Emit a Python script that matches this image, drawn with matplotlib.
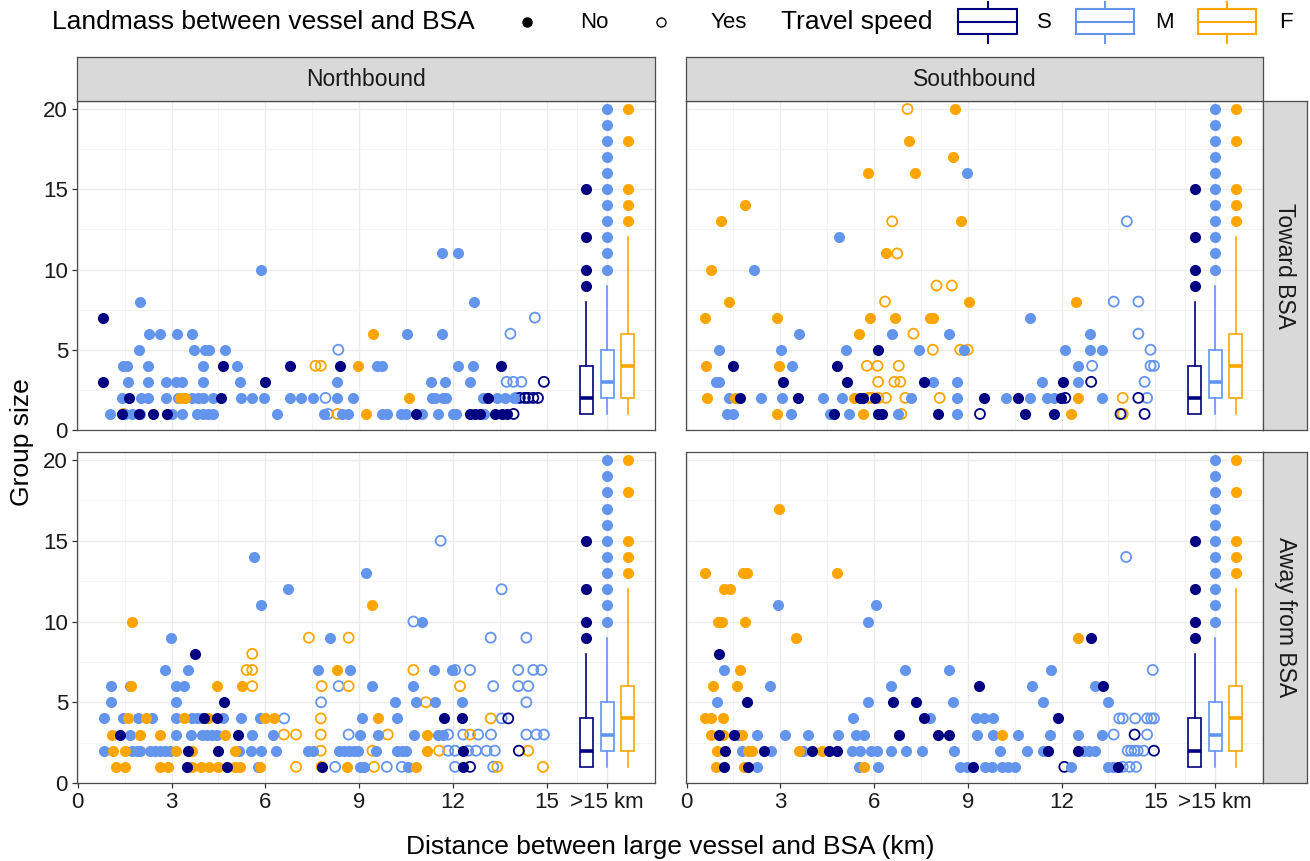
import matplotlib
matplotlib.use("Agg")
import matplotlib.pyplot as plt
from matplotlib.patches import Rectangle
from matplotlib.lines import Line2D
from matplotlib.ticker import FixedLocator

plt.rcParams['font.family'] = ['Liberation Sans', 'DejaVu Sans']

# ---------------------------------------------------------------- data
speeds = ['S', 'M', 'F']
speed_colors = {'S': '#000080', 'M': '#6495ED', 'F': '#FFA500'}
directions = ['Northbound', 'Southbound']
headings = ['Toward BSA', 'Away from BSA']

x_tick_values = [0, 3, 6, 9, 12, 15]
x_tick_labels = ['0', '3', '6', '9', '12', '15']
far_label = '>15 km'
y_tick_values = [0, 5, 10, 15, 20]

# boxplot summaries for groups beyond 15 km (same in every panel)
box_whislo = [1, 1, 1]
box_q1 = [1, 2, 2]
box_med = [2, 3, 4]
box_q3 = [4, 5, 6]
box_whishi = [8, 9, 12]
box_fliers_S = [9, 10, 12, 15]
box_fliers_M = [10, 11, 12, 13, 14, 15, 16, 17, 18, 19, 20]
box_fliers_F = [13, 14, 15, 18, 20]

# scatter data: {group size: [distances in km]}
# Northbound / Toward BSA
nt_S_no = {7: [0.8], 4: [4.66, 6.78, 8.37, 13.52], 3: [0.8, 5.99],
           2: [1.63, 4.58, 13.12],
           1: [1.41, 1.95, 2.42, 2.85, 10.81, 12.54, 12.7, 12.86, 13.33, 13.55, 13.71]}
nt_S_yes = {3: [14.9], 2: [14.13, 14.29, 14.4, 14.56, 14.71], 1: [13.93]}
nt_M_no = {11: [11.63, 12.14], 10: [5.86], 8: [2.0, 12.66],
           6: [2.29, 2.64, 3.17, 3.65, 10.54, 11.63],
           5: [1.95, 3.71, 4.08, 4.2, 4.71],
           4: [1.45, 1.57, 2.24, 4.01, 5.09, 9.56, 9.72, 12.16, 12.62],
           3: [1.6, 2.26, 2.82, 3.15, 3.33, 4.0, 5.2, 8.28, 11.28, 11.74, 12.54],
           2: [1.41, 2.02, 2.26, 2.82, 3.22, 3.65, 3.86, 4.02, 4.34, 5.21, 5.58, 5.97,
               6.78, 7.13, 7.51, 8.3, 8.81, 11.31, 11.42, 11.68, 11.77, 12.96, 13.07,
               13.4, 13.67, 13.93],
           1: [1.04, 1.52, 1.74, 2.0, 3.0, 3.33, 3.81, 4.02, 4.18, 4.34, 6.36, 7.88,
               8.44, 8.65, 9.72, 9.88, 10.33, 10.49, 11.0, 11.52, 11.99, 12.1, 12.97]}
nt_M_yes = {7: [14.61], 6: [13.83], 5: [8.33], 3: [13.71, 13.92, 14.18],
            2: [7.92, 14.0], 1: [8.0]}
nt_F_no = {6: [9.45], 4: [8.97], 2: [3.27, 3.43, 10.59], 1: [9.21]}
nt_F_yes = {4: [7.6, 7.77], 1: [1.47, 8.3]}

# Southbound / Toward BSA
st_S_no = {5: [6.12], 4: [1.5, 4.8], 3: [3.1, 5.13, 7.59, 12.04],
           2: [1.71, 3.58, 5.56, 5.66, 6.04, 9.51, 10.6, 11.99],
           1: [4.72, 6.14, 6.25, 8.04, 10.84, 11.75]}
st_S_yes = {3: [12.95], 2: [12.12, 14.46], 1: [9.39, 13.89, 14.66]}
st_M_no = {16: [8.97], 12: [4.87], 10: [2.16], 7: [10.99],
           6: [3.61, 6.57, 8.41, 12.9],
           5: [1.05, 3.01, 5.11, 7.43, 8.89, 12.1, 12.9, 13.3],
           4: [3.37, 12.52],
           3: [0.94, 1.04, 7.9, 8.65, 11.37, 12.52],
           2: [1.37, 2.37, 3.04, 4.36, 4.97, 7.18, 8.65, 10.22, 10.99, 11.54, 11.77, 13.3],
           1: [1.28, 1.47, 3.34, 4.59, 5.2, 6.78, 8.65]}
st_M_yes = {13: [14.09], 8: [13.67, 14.46], 6: [14.46], 5: [14.85],
            4: [12.98, 14.85, 14.96], 3: [14.66], 2: [14.74]}
st_F_no = {20: [8.59], 18: [7.12], 17: [8.53], 16: [5.82, 7.32], 14: [1.87],
           13: [1.1, 8.79], 11: [6.37], 10: [0.79], 8: [1.36, 9.03, 12.48],
           7: [0.58, 2.88, 5.88, 6.66, 7.8, 7.9], 6: [5.53], 4: [0.62, 2.97],
           2: [0.66, 1.55, 5.36, 12.52], 1: [2.88, 5.63, 12.29]}
st_F_yes = {20: [7.07], 13: [6.58], 11: [6.74], 9: [8.0, 8.49], 8: [6.35], 6: [7.26],
            5: [7.88, 8.76, 9.0], 4: [5.77, 6.11, 6.79], 3: [6.13, 6.65, 6.84],
            2: [5.82, 5.93, 6.14, 6.38, 7.0, 8.1, 13.96], 1: [6.87, 13.96]}

# Northbound / Away from BSA
na_S_no = {8: [3.75], 5: [4.68], 4: [4.05, 4.44, 11.72, 12.29], 3: [1.34, 5.14],
           2: [3.54, 4.48, 12.3], 1: [3.49, 4.76, 7.8, 12.3]}
na_S_yes = {4: [13.76], 2: [14.1], 1: [12.54]}
na_M_no = {14: [5.65], 13: [9.21], 12: [6.73], 11: [5.86], 10: [11.02],
           9: [2.98, 8.08], 7: [2.78, 3.54, 7.69, 8.71, 11.4, 11.95],
           6: [1.06, 1.68, 3.14, 3.41, 9.4, 10.73],
           5: [1.06, 3.15, 10.14, 10.8, 11.42, 12.29],
           4: [0.83, 1.45, 1.93, 2.39, 3.14, 3.65, 3.81, 3.97, 4.63, 5.21, 5.83, 9.1, 10.2],
           3: [1.68, 3.14, 3.63, 3.97, 4.13, 4.29, 4.44, 5.56, 6.23, 9.03, 9.61, 10.75,
               11.52, 11.68],
           2: [0.83, 1.73, 1.89, 2.0, 2.32, 2.48, 2.64, 2.8, 2.96, 5.16, 5.54, 5.86, 6.33,
               7.37, 7.53, 8.34, 8.5, 8.66, 8.82, 8.97, 9.53, 10.21, 10.37, 10.5],
           1: [5.77, 9.03, 9.14, 10.57]}
na_M_yes = {15: [11.6], 12: [13.55], 10: [10.73], 9: [13.2, 14.34],
            7: [12.06, 12.54, 14.08, 14.56, 14.82], 6: [8.34, 13.28, 14.08, 14.4],
            5: [7.78, 14.34], 4: [6.6, 13.55],
            3: [8.66, 11.84, 12.32, 12.8, 13.21, 14.34, 14.66, 14.9],
            2: [11.84, 12.06, 12.48, 12.73, 13.07, 13.33],
            1: [8.23, 9.88, 10.36, 12.06, 13.28]}
na_F_no = {11: [9.4], 10: [1.73], 7: [8.28], 6: [1.7, 4.44, 5.26],
           4: [1.61, 2.19, 3.41, 4.18, 5.99, 6.28, 9.61],
           3: [1.1, 1.98, 2.64, 4.71, 11.18], 2: [1.12, 1.52, 3.15, 3.65, 5.03, 11.18],
           1: [1.23, 1.5, 2.64, 2.88, 3.65, 3.95, 4.21, 4.48, 5.03, 5.19, 5.83, 8.6, 10.8]}
na_F_yes = {9: [7.39, 8.66], 8: [5.58], 7: [5.4, 5.58, 10.73],
            6: [5.58, 7.8, 8.66, 12.22], 5: [11.13], 4: [7.77, 13.2],
            3: [6.59, 6.98, 7.77, 9.91, 12.54], 2: [7.77, 9.42, 11.55, 14.4],
            1: [6.98, 7.8, 9.47, 13.41, 14.87]}

# Southbound / Away from BSA
sa_S_no = {9: [12.93], 8: [1.04], 6: [9.35, 13.32], 5: [1.94, 6.62, 7.35],
           4: [7.61, 11.9], 3: [1.04, 1.52, 6.79, 8.05, 8.41],
           2: [1.23, 2.48, 4.01, 4.57, 4.81, 11.58, 12.52], 1: [1.2, 1.98, 9.16, 13.8]}
sa_S_yes = {3: [14.34], 2: [14.96], 1: [12.09]}
sa_M_no = {11: [2.92, 6.07], 10: [5.82], 7: [1.2, 7.0, 8.41, 11.65],
           6: [2.67, 6.55, 11.05, 13.08], 5: [0.96, 5.79, 8.52, 11.42, 13.48],
           4: [5.34, 7.8, 9.26, 9.51, 9.8],
           3: [1.66, 2.26, 3.15, 3.87, 4.83, 5.43, 5.68, 9.28, 9.8, 10.6, 11.64, 12.52, 13.29],
           2: [1.76, 2.7, 3.74, 5.29, 5.56, 5.9, 6.09, 6.55, 7.01, 7.54, 8.55, 10.04, 10.89,
               11.4, 12.73, 12.89, 13.08],
           1: [2.26, 5.53, 6.14, 8.76, 8.99, 9.55, 9.76, 10.09, 10.3, 10.51, 12.31, 13.48, 13.64]}
sa_M_yes = {14: [14.07], 7: [14.92], 4: [13.85, 13.96, 14.36, 14.74, 14.87, 14.96],
            3: [13.67, 14.74], 2: [14.12, 14.23, 14.34, 14.44, 14.63],
            1: [13.96, 14.18, 14.39]}
sa_F_no = {17: [2.97], 13: [0.59, 1.82, 1.92, 4.81], 12: [1.2, 1.39],
           10: [0.99, 1.12, 1.87], 9: [3.5, 12.52], 7: [1.71], 6: [0.83, 1.6],
           4: [0.59, 0.77, 1.15], 3: [0.77, 1.15, 1.76, 10.09],
           2: [0.96, 1.98, 2.08, 3.61, 4.33], 1: [0.94, 1.84, 5.68]}
sa_F_yes = {}

panels = {
    ('Northbound', 'Toward BSA'): {'S': (nt_S_no, nt_S_yes), 'M': (nt_M_no, nt_M_yes), 'F': (nt_F_no, nt_F_yes)},
    ('Southbound', 'Toward BSA'): {'S': (st_S_no, st_S_yes), 'M': (st_M_no, st_M_yes), 'F': (st_F_no, st_F_yes)},
    ('Northbound', 'Away from BSA'): {'S': (na_S_no, na_S_yes), 'M': (na_M_no, na_M_yes), 'F': (na_F_no, na_F_yes)},
    ('Southbound', 'Away from BSA'): {'S': (sa_S_no, sa_S_yes), 'M': (sa_M_no, sa_M_yes), 'F': (sa_F_no, sa_F_yes)},
}
box_fliers = {'S': box_fliers_S, 'M': box_fliers_M, 'F': box_fliers_F}

# ---------------------------------------------------------------- layout
W, H = 1310, 861
fig = plt.figure(figsize=(W / 100, H / 100), dpi=100)
fig.patch.set_facecolor('white')


def px_axes(x0, y0, x1, y1, **kw):
    return fig.add_axes([x0 / W, 1 - y1 / H, (x1 - x0) / W, (y1 - y0) / H], **kw)


col_x = [(77, 655), (686, 1263)]
row_y = [(101, 430), (452, 783)]
BORDER = '#4D4D4D'
FAR_POS = 16.92
DODGE = 0.66
XMAX = 18.45
YMAX = 20.5
TICK_FS = 16
STRIP_FS = 16.5

far_positions = [FAR_POS - DODGE, FAR_POS, FAR_POS + DODGE]


def to_xy(d):
    xs, ys = [], []
    for size, dists in d.items():
        xs.extend(dists)
        ys.extend([size] * len(dists))
    return xs, ys


for r, heading in enumerate(headings):
    for c, direction in enumerate(directions):
        x0, x1 = col_x[c]
        y0, y1 = row_y[r]
        ax = px_axes(x0, y0, x1, y1)
        ax.set_xlim(-0.02, XMAX)
        ax.set_ylim(0, YMAX)
        ax.set_facecolor('white')
        for sp in ax.spines.values():
            sp.set_color(BORDER)
            sp.set_linewidth(0.9)
        # grid
        xmaj = x_tick_values + [FAR_POS]
        xmin = [v + 1.5 for v in x_tick_values[:-1]] + [(15 + FAR_POS) / 2]
        ax.xaxis.set_major_locator(FixedLocator(xmaj))
        ax.xaxis.set_minor_locator(FixedLocator(xmin))
        ax.yaxis.set_major_locator(FixedLocator(y_tick_values))
        ax.yaxis.set_minor_locator(FixedLocator([2.5, 7.5, 12.5, 17.5]))
        ax.grid(True, which='major', color='#EBEBEB', linewidth=1.0, zorder=0)
        ax.grid(True, which='minor', color='#F4F4F4', linewidth=0.7, zorder=0)
        ax.set_axisbelow(True)
        ax.tick_params(which='minor', length=0)
        ax.tick_params(which='major', length=3.5, width=0.9, color='#333333',
                       labelsize=TICK_FS, labelcolor='#1A1A1A', pad=3)
        if r == 1:
            ax.set_xticklabels(x_tick_labels + [far_label])
        else:
            ax.tick_params(axis='x', which='major', length=0)
            ax.set_xticklabels([])
        if c == 0:
            ax.set_yticklabels([str(v) for v in y_tick_values])
        else:
            ax.tick_params(axis='y', which='major', length=0)
            ax.set_yticklabels([])

        # scatter points
        groups = panels[(direction, heading)]
        for sp_name in ['M', 'F', 'S']:
            col = speed_colors[sp_name]
            d_no, d_yes = groups[sp_name]
            xs, ys = to_xy(d_yes)
            if xs:
                ax.scatter(xs, ys, s=52, facecolors='none', edgecolors=col,
                           linewidths=1.3, zorder=3)
            xs, ys = to_xy(d_no)
            if xs:
                ax.scatter(xs, ys, s=64, c=col, linewidths=0, zorder=4)

        # boxplots for > 15 km
        for i, sp_name in enumerate(speeds):
            col = speed_colors[sp_name]
            stats = [dict(whislo=box_whislo[i], q1=box_q1[i], med=box_med[i],
                          q3=box_q3[i], whishi=box_whishi[i], fliers=box_fliers[sp_name])]
            ax.bxp(stats, positions=[far_positions[i]], widths=0.42, patch_artist=True,
                   showcaps=False, manage_ticks=False,
                   boxprops=dict(facecolor='white', edgecolor=col, linewidth=1.2),
                   medianprops=dict(color=col, linewidth=2.6),
                   whiskerprops=dict(color=col, linewidth=1.2),
                   flierprops=dict(marker='o', markerfacecolor=col, markeredgecolor=col,
                                   markersize=8.0, markeredgewidth=0),
                   zorder=5)

# strips
for c, direction in enumerate(directions):
    x0, x1 = col_x[c]
    sax = px_axes(x0, 57, x1, 101)
    sax.set_facecolor('#D9D9D9')
    sax.set_xticks([]); sax.set_yticks([])
    for sp in sax.spines.values():
        sp.set_color(BORDER); sp.set_linewidth(0.9)
    sax.text(0.5, 0.5, direction, ha='center', va='center', fontsize=STRIP_FS,
             color='#1A1A1A', transform=sax.transAxes)
for r, heading in enumerate(headings):
    y0, y1 = row_y[r]
    sax = px_axes(1263, y0, 1307, y1)
    sax.set_facecolor('#D9D9D9')
    sax.set_xticks([]); sax.set_yticks([])
    for sp in sax.spines.values():
        sp.set_color(BORDER); sp.set_linewidth(0.9)
    sax.text(0.5, 0.5, heading, ha='center', va='center', fontsize=STRIP_FS,
             color='#1A1A1A', rotation=-90, transform=sax.transAxes)

# axis titles
fig.text(670 / W, 1 - 847 / H, 'Distance between large vessel and BSA (km)',
         ha='center', va='center', fontsize=19, color='black')
fig.text(22 / W, 1 - 442 / H, 'Group size', ha='center', va='center',
         fontsize=19, rotation=90, color='black')

# legend (drawn in pixel coordinates)
lax = px_axes(0, 0, W, 48)
lax.set_xlim(0, W)
lax.set_ylim(48, 0)
lax.axis('off')
LY = 22
lax.text(52, LY, 'Landmass between vessel and BSA', fontsize=19, va='center', ha='left')
lax.plot([527], [LY], marker='o', color='black', markersize=6.5, linestyle='none')
lax.text(580, LY, 'No', fontsize=16, va='center', ha='left')
lax.plot([661], [LY], marker='o', markerfacecolor='none', markeredgecolor='black',
         markersize=6.5, markeredgewidth=1.0, linestyle='none')
lax.text(711, LY, 'Yes', fontsize=16, va='center', ha='left')
lax.text(781, LY, 'Travel speed', fontsize=19, va='center', ha='left')
key_boxes = [(958, 1017, 1037), (1076, 1134, 1155), (1198, 1256, 1279)]
for sp_name, (bx0, bx1, tx) in zip(speeds, key_boxes):
    col = speed_colors[sp_name]
    cx = (bx0 + bx1) / 2
    lax.add_line(Line2D([cx, cx], [2, 43], color=col, linewidth=1.4))
    lax.add_patch(Rectangle((bx0, 9), bx1 - bx0, 25, facecolor='white',
                            edgecolor=col, linewidth=1.5, zorder=3))
    lax.add_line(Line2D([bx0, bx1], [21.5, 21.5], color=col, linewidth=1.5, zorder=4))
    lax.text(tx, LY, sp_name, fontsize=16, va='center', ha='left')

fig.savefig('out.png', dpi=100, facecolor='white')
